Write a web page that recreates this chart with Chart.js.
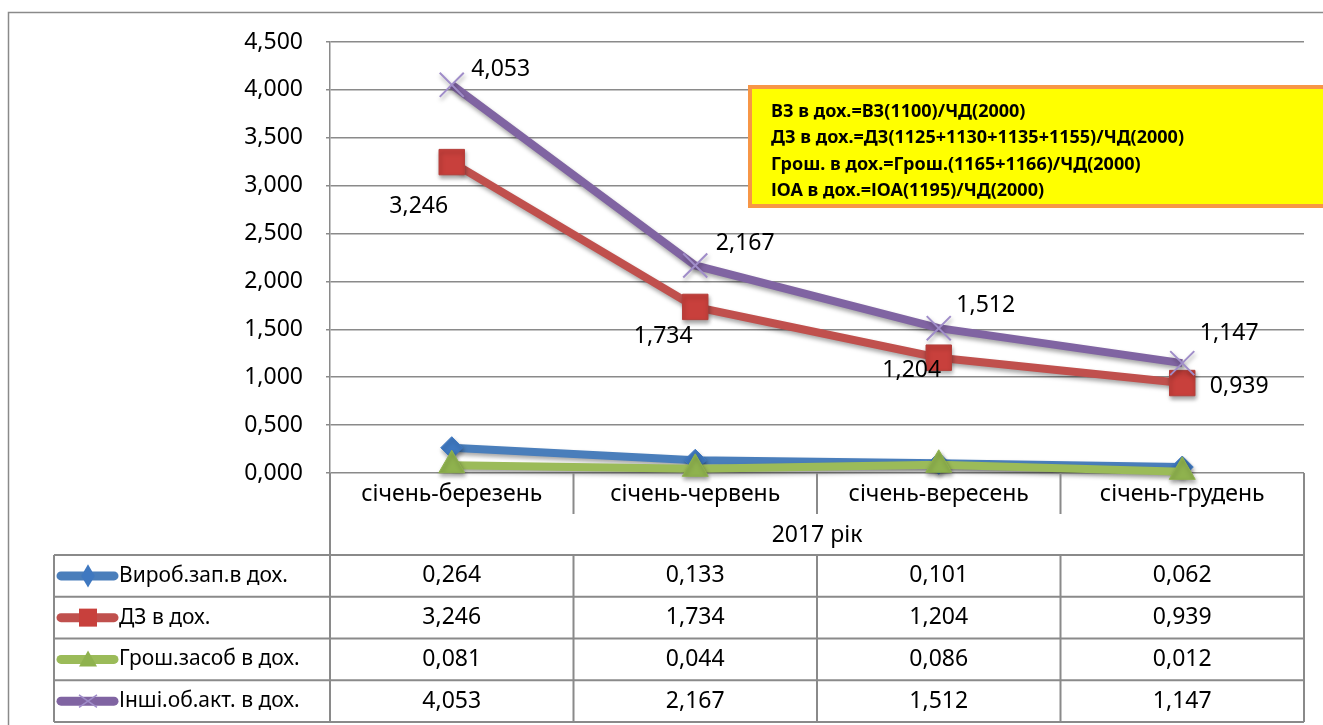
<!DOCTYPE html>
<html>
<head>
<meta charset="utf-8">
<script src="https://cdn.jsdelivr.net/npm/chart.js@4/dist/chart.umd.min.js"></script>
<style>
  html, body { margin: 0; padding: 0; background: #fff; }
  #wrap { width: 1323px; height: 725px; }
</style>
</head>
<body>
<div id="wrap"><canvas id="graf" width="1323" height="725"></canvas></div>
<script>
// дані з діаграми
const categories = ['січень-березень', 'січень-червень', 'січень-вересень', 'січень-грудень'];
const groupLabel = '2017 рік';
const seriesNames = ['Вироб.зап.в дох.', 'ДЗ в дох.', 'Грош.засоб в дох.', 'Інші.об.акт. в дох.'];
const vyrobZap = [0.264, 0.133, 0.101, 0.062];
const dzDokh = [3.246, 1.734, 1.204, 0.939];
const groshZasob = [0.081, 0.044, 0.086, 0.012];
const inshiObAkt = [4.053, 2.167, 1.512, 1.147];
const yTickValues = [0, 0.5, 1, 1.5, 2, 2.5, 3, 3.5, 4, 4.5];
const noteLines = [
    'ВЗ в дох.=ВЗ(1100)/ЧД(2000)',
    'ДЗ в дох.=ДЗ(1125+1130+1135+1155)/ЧД(2000)',
    'Грош. в дох.=Грош.(1165+1166)/ЧД(2000)',
    'ІОА в дох.=ІОА(1195)/ЧД(2000)'
];

const FONT = '"Noto Sans", "Open Sans", sans-serif';
const GRID = '#8a8a8a';

function fmt(v) {
    return v.toFixed(3).replace('.', ',');
}

// маркер для ключа легенди в таблиці
function drawMarker(ctx, style, x, y, r, fill, stroke) {
    ctx.save();
    ctx.fillStyle = fill;
    ctx.strokeStyle = stroke;
    ctx.beginPath();
    if (style === 'rectRot') {
        ctx.moveTo(x, y - r * 1.3);
        ctx.lineTo(x + r * 0.75, y);
        ctx.lineTo(x, y + r * 1.3);
        ctx.lineTo(x - r * 0.75, y);
        ctx.closePath();
        ctx.fill();
    } else if (style === 'rect') {
        ctx.rect(x - r, y - r, 2 * r, 2 * r);
        ctx.fill();
    } else if (style === 'triangle') {
        ctx.moveTo(x, y - r);
        ctx.lineTo(x + r, y + r * 0.8);
        ctx.lineTo(x - r, y + r * 0.8);
        ctx.closePath();
        ctx.fill();
    } else if (style === 'crossRot') {
        ctx.lineWidth = 1.5;
        ctx.moveTo(x - r, y - r * 0.7);
        ctx.lineTo(x + r, y + r * 0.7);
        ctx.moveTo(x + r, y - r * 0.7);
        ctx.lineTo(x - r, y + r * 0.7);
        ctx.stroke();
    }
    ctx.restore();
}

// тінь під лініями + підписи значень
const shadowAndLabels = {
    id: 'shadowAndLabels',
    beforeDatasetsDraw(chart) {
        const ctx = chart.ctx;
        ctx.save();
        ctx.shadowColor = 'rgba(0,0,0,0.35)';
        ctx.shadowBlur = 4;
        ctx.shadowOffsetX = 1;
        ctx.shadowOffsetY = 3;
    },
    afterDatasetsDraw(chart, args, opts) {
        const ctx = chart.ctx;
        ctx.restore();
        ctx.save();
        ctx.font = '23px ' + FONT;
        ctx.fillStyle = '#000';
        ctx.textAlign = 'center';
        ctx.textBaseline = 'middle';
        opts.labels.forEach(item => {
            const meta = chart.getDatasetMeta(item.dataset);
            const data = chart.data.datasets[item.dataset].data;
            meta.data.forEach((pt, i) => {
                const off = item.offsets[i];
                ctx.fillText(fmt(data[i]), pt.x + off[0], pt.y + off[1]);
            });
        });
        ctx.restore();
    }
};

// рамка, підписи категорій, таблиця даних, текстове поле
const dataTable = {
    id: 'dataTable',
    afterDraw(chart) {
        const ctx = chart.ctx;
        const area = chart.chartArea;
        const xs = chart.scales.x;
        const centers = categories.map((c, i) => xs.getPixelForValue(i));
        const edges = [area.left];
        for (let i = 0; i < centers.length - 1; i++) edges.push((centers[i] + centers[i + 1]) / 2);
        edges.push(area.right);

        const catRowH = 41;
        const tableTop = area.bottom + 82;
        const rowH = 41.75;
        const tableBottom = tableTop + rowH * 4;
        const tableLeft = 54;

        ctx.save();
        // зовнішня рамка діаграми
        ctx.strokeStyle = GRID;
        ctx.lineWidth = 1.5;
        ctx.beginPath();
        ctx.moveTo(8.5, 725);
        ctx.lineTo(8.5, 12.5);
        ctx.lineTo(1323, 12.5);
        ctx.stroke();

        // лінії таблиці
        ctx.lineWidth = 2;
        ctx.beginPath();
        ctx.moveTo(area.left, area.bottom);
        ctx.lineTo(area.left, tableBottom);
        ctx.moveTo(area.right, area.bottom);
        ctx.lineTo(area.right, tableBottom);
        ctx.moveTo(tableLeft, tableTop);
        ctx.lineTo(tableLeft, tableBottom);
        for (let i = 1; i < edges.length - 1; i++) {
            ctx.moveTo(edges[i], area.bottom);
            ctx.lineTo(edges[i], area.bottom + catRowH);
            ctx.moveTo(edges[i], tableTop);
            ctx.lineTo(edges[i], tableBottom);
        }
        for (let r = 0; r <= 4; r++) {
            ctx.moveTo(tableLeft, tableTop + r * rowH);
            ctx.lineTo(area.right, tableTop + r * rowH);
        }
        ctx.stroke();

        // підписи категорій
        ctx.fillStyle = '#000';
        ctx.font = '23px ' + FONT;
        ctx.textAlign = 'center';
        ctx.textBaseline = 'middle';
        categories.forEach((c, i) => ctx.fillText(c, centers[i], area.bottom + 21));
        ctx.fillText(groupLabel, (area.left + area.right) / 2, area.bottom + 62);

        // рядки таблиці
        chart.data.datasets.forEach((ds, r) => {
            const cy = tableTop + rowH * r + rowH / 2;
            ctx.save();
            ctx.strokeStyle = ds.borderColor;
            ctx.lineWidth = 9;
            ctx.lineCap = 'round';
            ctx.beginPath();
            ctx.moveTo(61, cy);
            ctx.lineTo(114, cy);
            ctx.stroke();
            ctx.restore();
            drawMarker(ctx, ds.pointStyle, 88, cy, 9, ds.pointBackgroundColor, ds.pointBorderColor);
            ctx.font = '21px ' + FONT;
            ctx.textAlign = 'left';
            ctx.fillText(seriesNames[r], 119, cy);
            ctx.font = '23px ' + FONT;
            ctx.textAlign = 'center';
            ds.data.forEach((v, i) => ctx.fillText(fmt(v), centers[i], cy));
        });

        // жовте поле з формулами
        ctx.fillStyle = '#ffff00';
        ctx.fillRect(750, 87, 600, 119);
        ctx.strokeStyle = '#f79646';
        ctx.lineWidth = 4;
        ctx.strokeRect(750, 87, 600, 119);
        ctx.fillStyle = '#000';
        ctx.font = 'bold 18px ' + FONT;
        ctx.textAlign = 'left';
        noteLines.forEach((t, i) => ctx.fillText(t, 771, 112 + i * 26.3));
        ctx.restore();
    }
};

const grafico = document.getElementById('graf');
const chart = new Chart(grafico, {
    type: 'line',
    data: {
        labels: categories,
        datasets: [
            {
                label: seriesNames[0],
                data: vyrobZap,
                borderColor: '#4a7ebb',
                borderWidth: 8,
                pointStyle: 'rectRot',
                pointRadius: 11,
                pointBackgroundColor: '#3f78c0',
                pointBorderColor: '#3f78c0',
                pointBorderWidth: 1,
                order: 4
            },
            {
                label: seriesNames[1],
                data: dzDokh,
                borderColor: '#c0504d',
                borderWidth: 8,
                pointStyle: 'rect',
                pointRadius: 18,
                pointBackgroundColor: '#c8403c',
                pointBorderColor: '#b5403c',
                pointBorderWidth: 1,
                order: 3
            },
            {
                label: seriesNames[2],
                data: groshZasob,
                borderColor: '#9bbb59',
                borderWidth: 8,
                pointStyle: 'triangle',
                pointRadius: 15,
                pointBackgroundColor: '#8fb24e',
                pointBorderColor: '#8fb24e',
                pointBorderWidth: 1,
                order: 2
            },
            {
                label: seriesNames[3],
                data: inshiObAkt,
                borderColor: '#8064a2',
                borderWidth: 8,
                pointStyle: 'crossRot',
                pointRadius: 17,
                pointBackgroundColor: '#a08dc9',
                pointBorderColor: '#a08dc9',
                pointBorderWidth: 2,
                order: 1
            }
        ]
    },
    options: {
        responsive: false,
        animation: false,
        layout: { padding: { top: 42, right: 15, bottom: 252, left: 0 } },
        elements: { line: { tension: 0 } },
        datasets: { line: { clip: false } },
        scales: {
            x: {
                type: 'category',
                offset: true,
                display: false
            },
            y: {
                min: 0,
                max: 4.5,
                afterBuildTicks: s => { s.ticks = yTickValues.map(v => ({ value: v })); },
                afterFit: s => { s.width = 330; },
                ticks: {
                    padding: 23,
                    color: '#000',
                    font: { family: FONT, size: 23 },
                    callback: v => fmt(v)
                },
                grid: { color: GRID, lineWidth: 1.5, tickLength: 4 },
                border: { color: GRID, width: 1.5 }
            }
        },
        plugins: {
            legend: { display: false },
            tooltip: { enabled: false },
            shadowAndLabels: {
                labels: [
                    { dataset: 1, offsets: [[-33, 44], [-32, 30], [-27, 13], [57, 3]] },
                    { dataset: 3, offsets: [[49, -15], [50, -22], [47, -23], [47, -30]] }
                ]
            }
        }
    },
    plugins: [shadowAndLabels, dataTable]
});
</script>
</body>
</html>
